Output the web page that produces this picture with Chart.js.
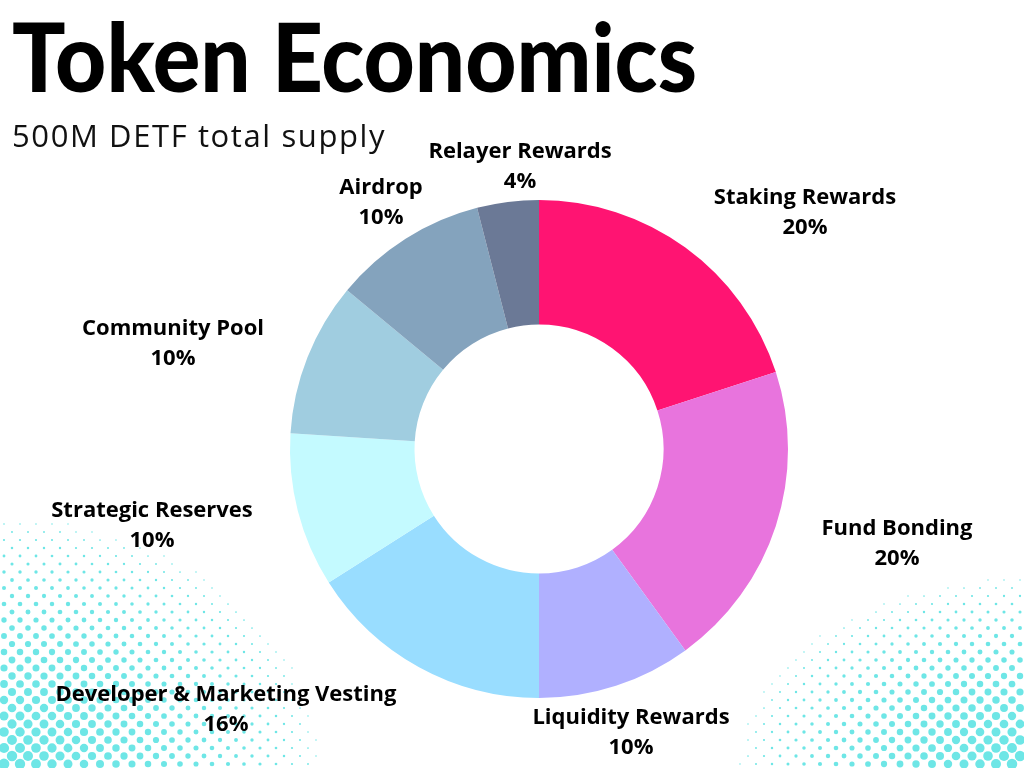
<!DOCTYPE html>
<html>
<head>
<meta charset="utf-8">
<script src="https://cdn.jsdelivr.net/npm/chart.js@4/dist/chart.umd.min.js"></script>
<style>
  html, body { margin: 0; padding: 0; background: #fff; }
  #wrap { position: relative; width: 1024px; height: 768px; overflow: hidden; }
  #dots, #chart { position: absolute; left: 0; top: 0; }
  #title {
    position: absolute; left: 12px; top: 0px; margin: 0;
    font-family: Lato, sans-serif; font-weight: 900; font-size: 96px; line-height: 110px;
    color: #000; white-space: nowrap; transform-origin: 0 0;
  }
  #subtitle {
    position: absolute; left: 12px; top: 114px; margin: 0;
    font-family: "Open Sans", sans-serif; font-weight: 400; font-size: 31px;
    letter-spacing: 1.6px; color: #111; white-space: nowrap;
  }
</style>
</head>
<body>
<div id="wrap">
  <canvas id="dots" width="1024" height="768"></canvas>
  <canvas id="chart" width="1024" height="768"></canvas>
  <h1 id="title">Token Economics</h1>
  <p id="subtitle">500M DETF total supply</p>
</div>
<script>
const categories = ['Staking Rewards', 'Fund Bonding', 'Liquidity Rewards', 'Developer & Marketing Vesting',
    'Strategic Reserves', 'Community Pool', 'Airdrop', 'Relayer Rewards'];
const shares = [20, 20, 10, 16, 10, 10, 10, 4];
const colors = ['#ff1472', '#e874dd', '#b0b0ff', '#99ddff', '#c4faff', '#a0cde0', '#84a3bd', '#6b7996'];

// where each two-line label sits (center x, first line y)
const labelSpots = [[805, 198], [897, 529], [631, 718], [226, 695], [152, 511], [173, 329], [381, 188], [520, 152]];

// squeeze the title to the reference width
const title = document.getElementById('title');
const tw = title.getBoundingClientRect().width;
title.style.transform = 'scaleX(' + (685 / tw) + ')';

// halftone dots in the bottom corners
function drawDots() {
    const ctx = document.getElementById('dots').getContext('2d');
    ctx.fillStyle = '#6ee6e6';
    let row = 0;
    for (let y = 764; y > 480; y -= 8, row++) {
        const off = (row % 2) * 8;
        for (let x = 4 + off; x < 1024; x += 16) {
            const dl = Math.hypot(x / 320, (768 - y) / 250);
            const dr = Math.hypot((1024 - x) / 285, (768 - y) / 190);
            const d = Math.min(dl, dr);
            if (d < 1) {
                const r = 4.8 * (1 - d) + 0.7;
                ctx.beginPath();
                ctx.arc(x, y, r, 0, Math.PI * 2);
                ctx.fill();
            }
        }
    }
}
drawDots();

const sliceLabels = {
    id: 'sliceLabels',
    afterDraw(chart) {
        const ctx = chart.ctx;
        ctx.save();
        ctx.fillStyle = '#000';
        ctx.font = 'bold 22px "Open Sans", sans-serif';
        ctx.textAlign = 'center';
        ctx.textBaseline = 'middle';
        categories.forEach((name, i) => {
            const [x, y] = labelSpots[i];
            ctx.fillText(name, x, y);
            ctx.fillText(shares[i] + '%', x, y + 30);
        });
        ctx.restore();
    }
};

new Chart(document.getElementById('chart'), {
    type: 'doughnut',
    data: {
        labels: categories,
        datasets: [{
            data: shares,
            backgroundColor: colors,
            borderWidth: 0
        }]
    },
    options: {
        responsive: false,
        animation: false,
        cutout: '50%',
        layout: {
            padding: { left: 290, right: 236, top: 200, bottom: 70 }
        },
        plugins: {
            legend: { display: false },
            tooltip: { enabled: false }
        }
    },
    plugins: [sliceLabels]
});
</script>
</body>
</html>
